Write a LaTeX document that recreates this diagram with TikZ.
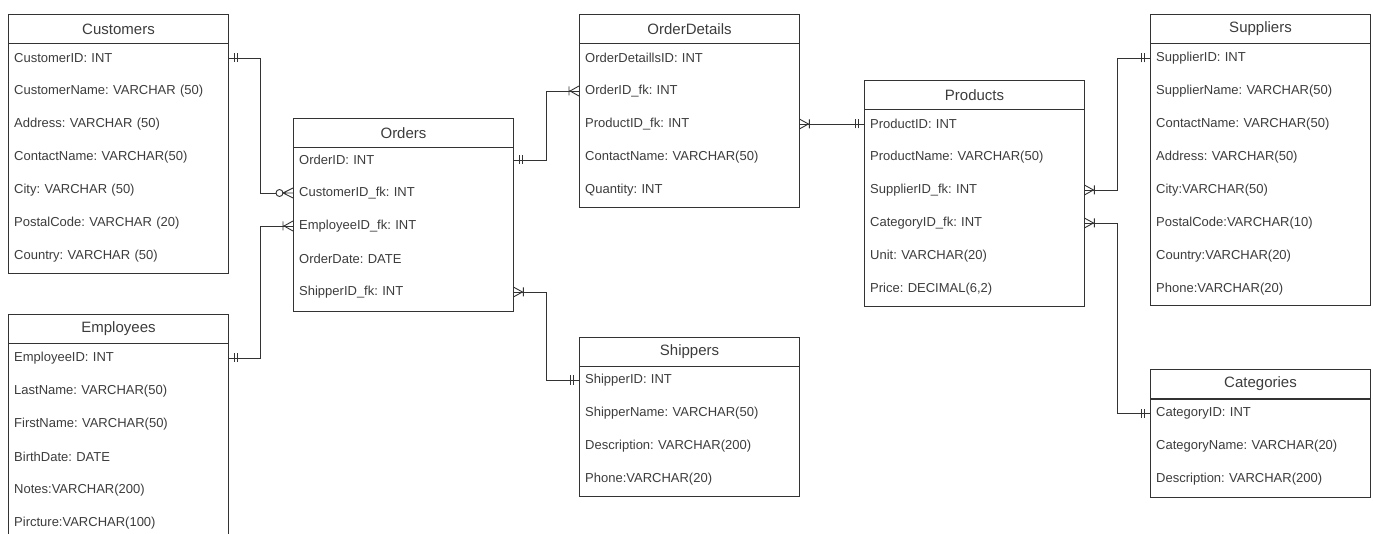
\documentclass[tikz,border=0pt]{standalone}
\usepackage{fontspec}
\setmainfont{Liberation Sans}
\frenchspacing

\definecolor{linecol}{HTML}{333333}
\definecolor{txtcol}{HTML}{3C3C3C}

% crow's foot ends
\pgfdeclarearrow{
  name = ermandone,
  setup code = {
    \pgfarrowssettipend{0pt}
    \pgfarrowssetlineend{0pt}
    \pgfarrowssetbackend{-10pt}
    \pgfarrowshullpoint{0pt}{5pt}
    \pgfarrowshullpoint{0pt}{-5pt}
    \pgfarrowshullpoint{-10pt}{5pt}
    \pgfarrowshullpoint{-10pt}{-5pt}
  },
  drawing code = {
    \pgfpathmoveto{\pgfpoint{-6pt}{-4.5pt}}
    \pgfpathlineto{\pgfpoint{-6pt}{4.5pt}}
    \pgfpathmoveto{\pgfpoint{-9pt}{-4.5pt}}
    \pgfpathlineto{\pgfpoint{-9pt}{4.5pt}}
    \pgfusepathqstroke
  }
}
\pgfdeclarearrow{
  name = eronemany,
  setup code = {
    \pgfarrowssettipend{0pt}
    \pgfarrowssetlineend{0pt}
    \pgfarrowssetbackend{-11pt}
    \pgfarrowshullpoint{0pt}{5pt}
    \pgfarrowshullpoint{0pt}{-5pt}
    \pgfarrowshullpoint{-11pt}{5pt}
    \pgfarrowshullpoint{-11pt}{-5pt}
  },
  drawing code = {
    \pgfpathmoveto{\pgfpoint{0pt}{5pt}}
    \pgfpathlineto{\pgfpoint{-9pt}{0pt}}
    \pgfpathlineto{\pgfpoint{0pt}{-5pt}}
    \pgfpathmoveto{\pgfpoint{-10pt}{-4.5pt}}
    \pgfpathlineto{\pgfpoint{-10pt}{4.5pt}}
    \pgfusepathqstroke
  }
}
\pgfdeclarearrow{
  name = erzeromany,
  setup code = {
    \pgfarrowssettipend{0pt}
    \pgfarrowssetlineend{-17pt}
    \pgfarrowssetbackend{-17pt}
    \pgfarrowshullpoint{0pt}{5pt}
    \pgfarrowshullpoint{0pt}{-5pt}
    \pgfarrowshullpoint{-17pt}{5pt}
    \pgfarrowshullpoint{-17pt}{-5pt}
  },
  drawing code = {
    \pgfpathmoveto{\pgfpoint{0pt}{5pt}}
    \pgfpathlineto{\pgfpoint{-10pt}{0pt}}
    \pgfpathlineto{\pgfpoint{0pt}{-5pt}}
    \pgfpathmoveto{\pgfpoint{0pt}{0pt}}
    \pgfpathlineto{\pgfpoint{-10pt}{0pt}}
    \pgfpathcircle{\pgfpoint{-13.5pt}{0pt}}{3.5pt}
    \pgfusepathqstroke
  }
}

\tikzset{
  tblline/.style={draw=linecol, line width=1pt},
  tblhead/.style={tblline, anchor=north west, minimum width=220pt, minimum height=29pt,
    inner sep=0pt, text=txtcol, font=\fontsize{15}{18}\selectfont},
  tblrow/.style={anchor=west, text width=208pt, inner xsep=6pt, inner ysep=0pt,
    align=left, text=txtcol, font=\fontsize{13}{15}\selectfont},
  rel/.style={draw=linecol, line width=0.9pt}
}

\begin{document}
\begin{tikzpicture}[x=1pt,y=-1pt]
\useasboundingbox (0,0) rectangle (1373,534);

% Customers
\node[tblhead] (cus) at (8,14) {Customers};
\draw[tblline] (cus.south west) rectangle (228,274);
\node[tblrow] (cus-1) at (8,58)  {CustomerID: INT};
\node[tblrow] (cus-2) at (8,91)  {CustomerName: VARCHAR (50)};
\node[tblrow] (cus-3) at (8,124) {Address: VARCHAR (50)};
\node[tblrow] (cus-4) at (8,157) {ContactName: VARCHAR(50)};
\node[tblrow] (cus-5) at (8,190) {City: VARCHAR (50)};
\node[tblrow] (cus-6) at (8,223) {PostalCode: VARCHAR (20)};
\node[tblrow] (cus-7) at (8,256) {Country: VARCHAR (50)};

% Employees (runs off the bottom)
\node[tblhead] (emp) at (8,314) {Employees};
\draw[tblline] (cus.south west |- emp.south) rectangle (228,545);
\node[tblrow] (emp-1) at (8,358) {EmployeeID: INT};
\node[tblrow] (emp-2) at (8,391) {LastName: VARCHAR(50)};
\node[tblrow] (emp-3) at (8,424) {FirstName: VARCHAR(50)};
\node[tblrow] (emp-4) at (8,457) {BirthDate: DATE};
\node[tblrow] (emp-5) at (8,490) {Notes:VARCHAR(200)};
\node[tblrow] (emp-6) at (8,523) {Pircture:VARCHAR(100)};

% Orders
\node[tblhead] (ord) at (293,118) {Orders};
\draw[tblline] (ord.south west) rectangle (513,312);
\node[tblrow] (ord-1) at (293,160) {OrderID: INT};
\node[tblrow] (ord-2) at (293,193) {CustomerID\_fk: INT};
\node[tblrow] (ord-3) at (293,226) {EmployeeID\_fk: INT};
\node[tblrow] (ord-4) at (293,259) {OrderDate: DATE};
\node[tblrow] (ord-5) at (293,292) {ShipperID\_fk: INT};

% OrderDetails
\node[tblhead] (odt) at (579,14) {OrderDetails};
\draw[tblline] (odt.south west) rectangle (799,208);
\node[tblrow] (odt-1) at (579,58)  {OrderDetaillsID: INT};
\node[tblrow] (odt-2) at (579,91)  {OrderID\_fk: INT};
\node[tblrow] (odt-3) at (579,124) {ProductID\_fk: INT};
\node[tblrow] (odt-4) at (579,157) {ContactName: VARCHAR(50)};
\node[tblrow] (odt-5) at (579,190) {Quantity: INT};

% Shippers
\node[tblhead] (shp) at (579,337) {Shippers};
\draw[tblline] (shp.south west) rectangle (799,496);
\node[tblrow] (shp-1) at (579,380) {ShipperID: INT};
\node[tblrow] (shp-2) at (579,413) {ShipperName: VARCHAR(50)};
\node[tblrow] (shp-3) at (579,446) {Description: VARCHAR(200)};
\node[tblrow] (shp-4) at (579,479) {Phone:VARCHAR(20)};

% Products
\node[tblhead] (prd) at (864,80) {Products};
\draw[tblline] (prd.south west) rectangle (1084,307);
\node[tblrow] (prd-1) at (864,124) {ProductID: INT};
\node[tblrow] (prd-2) at (864,157) {ProductName: VARCHAR(50)};
\node[tblrow] (prd-3) at (864,190) {SupplierID\_fk: INT};
\node[tblrow] (prd-4) at (864,223) {CategoryID\_fk: INT};
\node[tblrow] (prd-5) at (864,256) {Unit: VARCHAR(20)};
\node[tblrow] (prd-6) at (864,289) {Price: DECIMAL(6,2)};

% Suppliers
\node[tblhead] (sup) at (1150,14) {Suppliers};
\draw[tblline] (sup.south west) rectangle (1370,306);
\node[tblrow] (sup-1) at (1150,58)  {SupplierID: INT};
\node[tblrow] (sup-2) at (1150,91)  {SupplierName: VARCHAR(50)};
\node[tblrow] (sup-3) at (1150,124) {ContactName: VARCHAR(50)};
\node[tblrow] (sup-4) at (1150,157) {Address: VARCHAR(50)};
\node[tblrow] (sup-5) at (1150,190) {City:VARCHAR(50)};
\node[tblrow] (sup-6) at (1150,223) {PostalCode:VARCHAR(10)};
\node[tblrow] (sup-7) at (1150,256) {Country:VARCHAR(20)};
\node[tblrow] (sup-8) at (1150,289) {Phone:VARCHAR(20)};

% Categories
\node[tblhead] (cat) at (1150,369) {Categories};
\draw[tblline] (cat.south west) rectangle (1370,497);
\node[tblrow] (cat-1) at (1150,413) {CategoryID: INT};
\node[tblrow] (cat-2) at (1150,446) {CategoryName: VARCHAR(20)};
\node[tblrow] (cat-3) at (1150,479) {Description: VARCHAR(200)};

% Relations
\draw[rel,ermandone-erzeromany] (cus-1.east) -- ++(32,0) |- (ord-2.west);
\draw[rel,ermandone-eronemany] (emp-1.east) -- ++(32,0) |- (ord-3.west);
\draw[rel,ermandone-eronemany] (ord-1.east) -- ++(33,0) |- (odt-2.west);
\draw[rel,eronemany-ermandone] (ord-5.east) -- ++(33,0) |- (shp-1.west);
\draw[rel,eronemany-ermandone] (odt-3.east) -- (prd-1.west);
\draw[rel,eronemany-ermandone] (prd-3.east) -- ++(33,0) |- (sup-1.west);
\draw[rel,eronemany-ermandone] (prd-4.east) -- ++(33,0) |- (cat-1.west);
\end{tikzpicture}
\end{document}
